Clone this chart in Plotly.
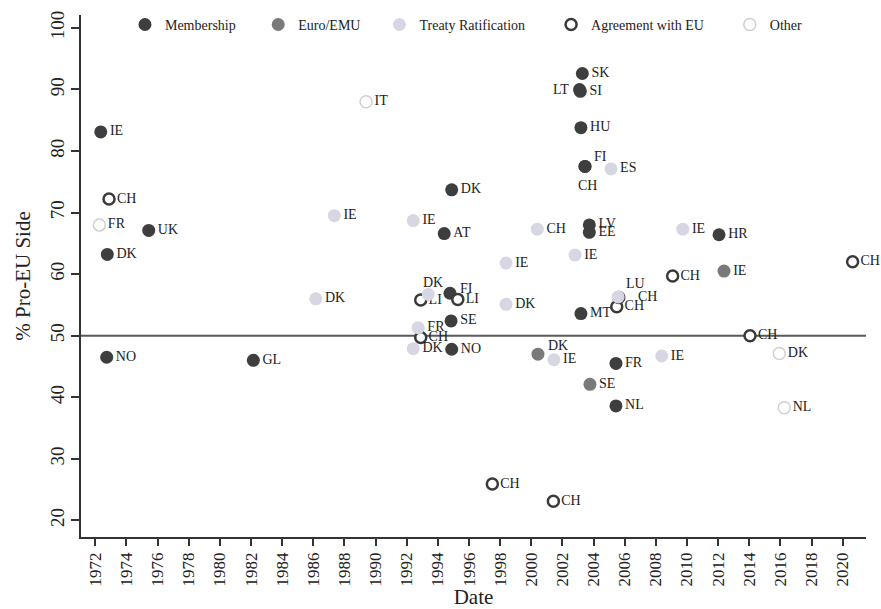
import plotly.graph_objects as go

# ---- Membership referendums ----
mem_labels = ["IE", "DK", "NO", "UK", "GL", "DK", "AT", "FI", "SE", "NO", "MT",
              "SK", "SI", "LT", "HU", "FI", "CH", "LV", "EE", "FR", "NL", "HR"]
mem_years = [1972.35, 1972.77, 1972.73, 1975.43, 1982.15, 1994.89, 1994.41, 1994.78,
             1994.85, 1994.89, 2003.19, 2003.28, 2003.15, 2003.10, 2003.19, 2003.45,
             2003.45, 2003.73, 2003.73, 2005.44, 2005.44, 2012.06]
mem_values = [83.1, 63.2, 46.5, 67.1, 46.0, 73.7, 66.6, 56.9, 52.4, 47.8, 53.6,
              92.6, 89.7, 90.0, 83.8, 77.5, 77.5, 68.0, 66.8, 45.5, 38.6, 66.4]

# ---- Euro / EMU referendums ----
euro_labels = ["DK", "SE", "IE"]
euro_years = [2000.43, 2003.77, 2012.38]
euro_values = [47.0, 42.1, 60.5]

# ---- Treaty ratification referendums ----
treaty_labels = ["IE", "DK", "IE", "DK", "FR", "DK", "IE", "DK", "CH", "IE",
                 "IE", "ES", "LU", "IE", "IE"]
treaty_years = [1987.35, 1986.16, 1992.42, 1992.42, 1992.74, 1993.39, 1998.38,
                1998.38, 2000.39, 2001.46, 2002.81, 2005.12, 2005.58, 2008.38, 2009.73]
treaty_values = [69.5, 56.0, 68.7, 47.9, 51.3, 56.7, 61.8, 55.1, 67.3, 46.1,
                 63.1, 77.1, 56.3, 46.7, 67.3]

# ---- Agreements with the EU ----
agree_labels = ["CH", "LI", "CH", "LI", "CH", "CH", "CH", "CH", "CH", "CH", "CH"]
agree_years = [1972.88, 1992.90, 1992.90, 1995.28, 1997.50, 2001.42, 2005.49,
               2005.62, 2009.08, 2014.05, 2020.64]
agree_values = [72.2, 55.8, 49.7, 55.9, 25.9, 23.1, 54.7, 56.2, 59.7, 50.0, 62.0]

# ---- Other referendums ----
other_labels = ["FR", "IT", "DK", "NL"]
other_years = [1972.26, 1989.39, 2015.93, 2016.25]
other_values = [68.0, 88.0, 47.1, 38.3]

# ---- Axis ticks ----
year_ticks = list(range(1972, 2021, 2))
pct_ticks = list(range(20, 101, 10))
threshold = 50

# labels that sit off the default right-hand spot: (index) -> (xanchor, xshift, yshift)
mem_label_offsets = {7: ("left", 8, 5), 13: ("right", -9, 0), 15: ("left", 7, 10),
                     16: ("center", 3, -19)}
euro_label_offsets = {0: ("left", 8, 9)}
treaty_label_offsets = {5: ("center", 5, 12), 12: ("left", 6, 13)}
agree_label_offsets = {7: ("left", 17, 1)}
other_label_offsets = {}

SERIF = "Liberation Serif"
NB = "\u00a0"
label_font = dict(family=SERIF, size=14, color="#222222")

fig = go.Figure()


def add_group(years, values, labels, offsets, name, rank, marker):
    # default labels go to the right of each marker; others become annotations
    texts = ["" if i in offsets else lab for i, lab in enumerate(labels)]
    fig.add_trace(go.Scatter(
        x=years, y=values, text=texts, textposition="middle right",
        mode="markers+text", name=name, legendrank=rank, marker=marker,
        textfont=label_font, cliponaxis=False))
    for i, (anchor, dx, dy) in offsets.items():
        fig.add_annotation(x=years[i], y=values[i], text=labels[i], showarrow=False,
                           xanchor=anchor, yanchor="middle", xshift=dx, yshift=dy,
                           font=label_font)


# draw order: dark markers first, light treaty markers last
add_group(mem_years, mem_values, mem_labels, mem_label_offsets,
          "Membership" + NB * 5, 1,
          dict(symbol="circle", size=13, color="#3e3e3e"))
add_group(euro_years, euro_values, euro_labels, euro_label_offsets,
          "Euro/EMU" + NB * 4, 2,
          dict(symbol="circle", size=13, color="#7a7a7a"))
add_group(agree_years, agree_values, agree_labels, agree_label_offsets,
          "Agreement with EU" + NB * 6, 4,
          dict(symbol="circle", size=11, color="white",
               line=dict(color="#3a3a3a", width=2.5)))
add_group(other_years, other_values, other_labels, other_label_offsets,
          "Other", 5,
          dict(symbol="circle", size=12, color="white",
               line=dict(color="#cfcfcf", width=1.5)))
add_group(treaty_years, treaty_values, treaty_labels, treaty_label_offsets,
          "Treaty Ratification" + NB * 6, 3,
          dict(symbol="circle", size=13, color="#d7d7e3"))

# 50% reference line
fig.add_hline(y=threshold, line=dict(color="#5a5a5a", width=2), layer="below")

fig.update_layout(
    width=881, height=609,
    margin=dict(l=81, r=15, t=15, b=72, autoexpand=False),
    plot_bgcolor="white", paper_bgcolor="white",
    font=dict(family=SERIF, color="#222222"),
    showlegend=True,
    legend=dict(orientation="h", x=0.056, y=0.981, xanchor="left", yanchor="middle",
                font=dict(family=SERIF, size=14, color="#222222"),
                bgcolor="rgba(0,0,0,0)", traceorder="normal"),
    xaxis=dict(
        range=[1971.08, 2021.5], tickmode="array", tickvals=year_ticks,
        ticktext=[str(y) for y in year_ticks], tickangle=-90, automargin=False,
        tickfont=dict(family=SERIF, size=17, color="#222222"),
        ticks="outside", ticklen=7, tickwidth=1.5, tickcolor="#333333",
        showline=True, linecolor="#333333", linewidth=1.5,
        showgrid=False, zeroline=False,
        title=dict(text="Date", font=dict(family=SERIF, size=21, color="#222222"),
                   standoff=5)),
    yaxis=dict(
        range=[17.3, 102.1], tickmode="array", tickvals=pct_ticks,
        ticktext=[str(v) for v in pct_ticks], tickangle=-90, automargin=False,
        tickfont=dict(family=SERIF, size=19, color="#222222"),
        ticks="outside", ticklen=8, tickwidth=1.5, tickcolor="#333333",
        showline=True, linecolor="#333333", linewidth=1.5,
        showgrid=False, zeroline=False,
        title=dict(text="% Pro-EU Side", font=dict(family=SERIF, size=21, color="#222222"),
                   standoff=10)),
)

fig.write_html("out.html")
